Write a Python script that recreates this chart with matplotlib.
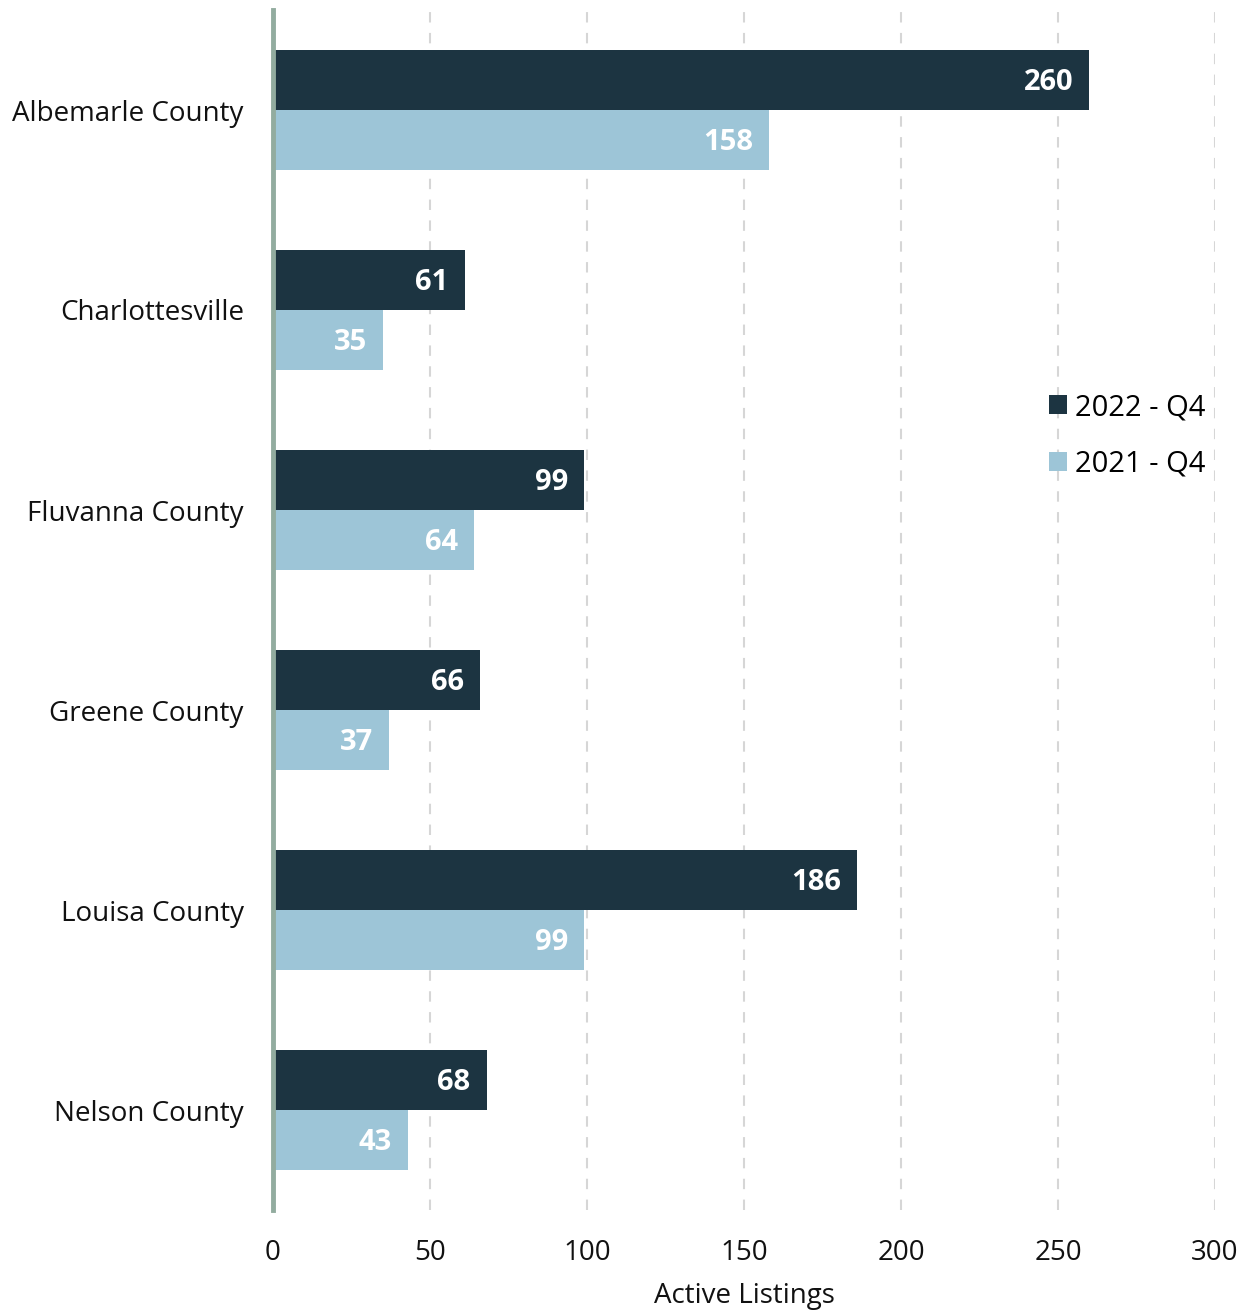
import matplotlib
matplotlib.use("Agg")
import matplotlib.pyplot as plt
import numpy as np

categories = ["Albemarle County", "Charlottesville", "Fluvanna County",
              "Greene County", "Louisa County", "Nelson County"]
q4_2022 = [260, 61, 99, 66, 186, 68]
q4_2021 = [158, 35, 64, 37, 99, 43]
series_labels = ["2022 - Q4", "2021 - Q4"]
x_ticks = [0, 50, 100, 150, 200, 250, 300]

plt.rcParams['font.family'] = ['Open Sans', 'DejaVu Sans']

dark = "#1c3441"
light = "#9dc5d7"

fig = plt.figure(figsize=(12.5, 13.11), dpi=100)
ax = fig.add_axes([273/1250, 1 - 1210/1311, (1215-273)/1250, 1200/1311])

y = np.arange(len(categories))
h = 0.3
b1 = ax.barh(y - h/2, q4_2022, height=h, color=dark, label=series_labels[0], zorder=3)
b2 = ax.barh(y + h/2, q4_2021, height=h, color=light, label=series_labels[1], zorder=3)

for bars, vals in ((b1, q4_2022), (b2, q4_2021)):
    for rect, v in zip(bars, vals):
        ax.annotate(str(v), xy=(v, rect.get_y() + rect.get_height()/2),
                    xytext=(-16, 1), textcoords="offset pixels",
                    ha="right", va="center_baseline", color="white", fontsize=21,
                    fontweight="bold", zorder=4)

ax.set_ylim(len(categories) - 0.5, -0.5)
ax.set_xlim(0, 300)
ax.set_yticks(y)
ax.set_yticklabels(categories, fontsize=20)
for lbl in ax.get_yticklabels():
    lbl.set_va("center_baseline")
ax.set_xticks(x_ticks)
ax.set_xticklabels([str(t) for t in x_ticks], fontsize=20)
ax.tick_params(axis="both", length=0, colors="#111111")
ax.tick_params(axis="x", pad=21)
ax.tick_params(axis="y", pad=21)
ax.set_xlabel("Active Listings", fontsize=20, labelpad=11, color="#111111")

for s in ("top", "right", "bottom"):
    ax.spines[s].set_visible(False)
ax.spines["left"].set_color("#92ac9f")
ax.spines["left"].set_linewidth(3.5)
ax.spines["left"].set_zorder(5)

ax.xaxis.grid(True, linestyle=(0, (5, 5)), color="#d6d6d6", linewidth=1.5, zorder=0)
ax.yaxis.grid(False)

leg = ax.legend(loc="center left", bbox_to_anchor=(0.8238, 0.645), frameon=False,
                fontsize=21, handlelength=0.62, handleheight=0.62, handletextpad=0.27,
                labelspacing=0.95, borderpad=0, borderaxespad=0)

fig.savefig("out.png", dpi=100)
